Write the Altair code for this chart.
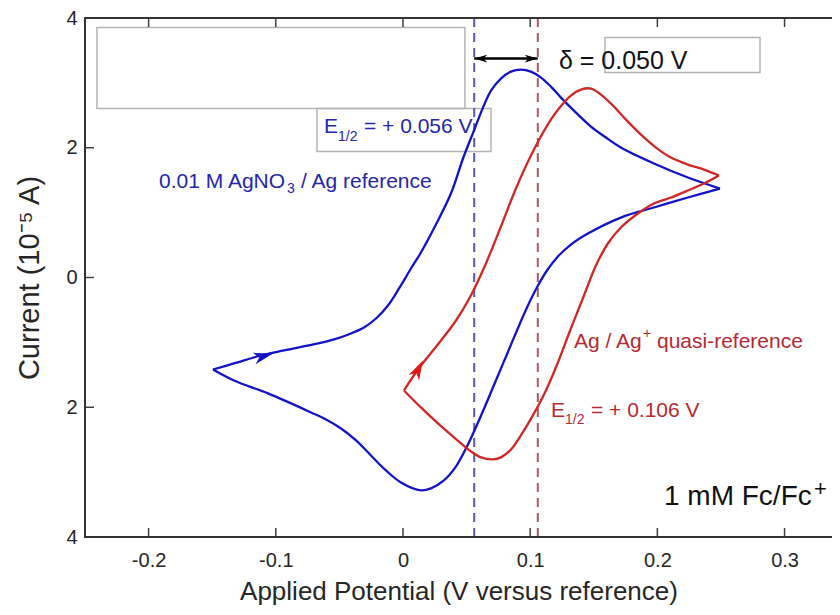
import altair as alt
import pandas as pd

# ---------------- data ----------------
# Blue CV : 0.01 M AgNO3 / Ag reference (forward = anodic sweep, reverse = cathodic sweep)
blue_fwd_x = [-0.1494, -0.1329, -0.1116, -0.0935, -0.0668, -0.0542, -0.0409, -0.0307, -0.0212,
              -0.0118, -0.0031, 0.0063, 0.0141, 0.0259, 0.0377, 0.0472, 0.0558, 0.0629, 0.0692,
              0.0770, 0.0849, 0.0927, 0.1006, 0.1085, 0.1163, 0.1242, 0.1360, 0.1478, 0.1596,
              0.1713, 0.1973, 0.2240, 0.2492]
blue_fwd_y = [-1.418, -1.325, -1.202, -1.125, -1.017, -0.955, -0.863, -0.770, -0.632,
              -0.431, -0.169, 0.139, 0.385, 0.817, 1.294, 1.834, 2.265, 2.619, 2.881,
              3.066, 3.174, 3.205, 3.174, 3.082, 2.943, 2.773, 2.542, 2.327, 2.157,
              2.003, 1.757, 1.541, 1.371]
blue_rev_x = [0.2492, 0.2240, 0.1973, 0.1713, 0.1454, 0.1320, 0.1218, 0.1132, 0.1053, 0.0975,
              0.0896, 0.0817, 0.0747, 0.0668, 0.0590, 0.0511, 0.0417, 0.0322, 0.0220, 0.0141,
              -0.0016, -0.0134, -0.0252, -0.0369, -0.0487, -0.0605, -0.0723, -0.1061, -0.1329,
              -0.1494]
blue_rev_y = [1.371, 1.233, 1.079, 0.924, 0.678, 0.508, 0.324, 0.108, -0.154, -0.462,
              -0.817, -1.186, -1.510, -1.880, -2.234, -2.573, -2.912, -3.128, -3.251, -3.282,
              -3.159, -2.974, -2.743, -2.511, -2.327, -2.188, -2.080, -1.787, -1.587,
              -1.418]

# Red CV : Ag / Ag+ quasi-reference
red_fwd_x = [0.0008, 0.0118, 0.0299, 0.0417, 0.0534, 0.0652, 0.0770, 0.0888, 0.1006, 0.1124,
             0.1226, 0.1320, 0.1399, 0.1478, 0.1556, 0.1651, 0.1753, 0.1871, 0.1989, 0.2107,
             0.2240, 0.2366, 0.2484]
red_fwd_y = [-1.741, -1.418, -0.971, -0.663, -0.277, 0.216, 0.786, 1.371, 1.880, 2.311,
             2.604, 2.804, 2.897, 2.912, 2.820, 2.650, 2.434, 2.203, 2.003, 1.849,
             1.741, 1.664, 1.572]
red_rev_x = [0.2484, 0.2366, 0.2240, 0.2107, 0.1973, 0.1847, 0.1713, 0.1611, 0.1517, 0.1423,
             0.1320, 0.1218, 0.1124, 0.1030, 0.0927, 0.0849, 0.0770, 0.0707, 0.0613, 0.0534,
             0.0401, 0.0275, 0.0141, 0.0008]
red_rev_y = [1.572, 1.448, 1.341, 1.233, 1.140, 0.986, 0.770, 0.524, 0.185, -0.277,
             -0.786, -1.310, -1.741, -2.095, -2.434, -2.650, -2.773, -2.804, -2.773, -2.681,
             -2.465, -2.250, -2.003, -1.741]

# half-wave potentials and their difference
e_half_values = [0.056, 0.106]
delta_y = 3.374

x_ticks = [-0.2, -0.1, 0, 0.1, 0.2, 0.3]
y_ticks = [-4, -2, 0, 2, 4]
# the reference figure is cropped at its right edge, a little before x = 0.35
x_domain = [-0.25, 0.3373]
y_domain = [-4, 4]

# ---------------- styles ----------------
W, H = 747, 519
FONT = "Liberation Sans"
BLUE = "#1212c6"
RED = "#d02828"
BLUE_TXT = "#2626a8"
RED_TXT = "#b42a34"
AXIS_COL = "#262626"
FRAME = "#333333"
TICK = 9

def branch(xs, ys, name):
    return pd.DataFrame({"x": xs, "y": ys, "branch": name, "idx": list(range(len(xs)))})

blue_df = pd.concat([branch(blue_fwd_x, blue_fwd_y, "bf"), branch(blue_rev_x, blue_rev_y, "br")])
red_df = pd.concat([branch(red_fwd_x, red_fwd_y, "rf"), branch(red_rev_x, red_rev_y, "rr")])

xscale = alt.Scale(domain=x_domain, nice=False, zero=False)
yscale = alt.Scale(domain=y_domain, nice=False, zero=False)

x_enc = alt.X("x:Q", scale=xscale, axis=alt.Axis(
    values=x_ticks, ticks=False, domain=False, grid=False,
    labelExpr="datum.value == 0 ? '0' : (datum.value < 0 ? '-' : '') + format(abs(datum.value), '.1f')",
    labelFontSize=20, labelColor=AXIS_COL, labelPadding=13, labelFont=FONT,
    title="Applied Potential (V versus reference)", titleFontSize=26, titleFontWeight="normal",
    titleColor=AXIS_COL, titleFont=FONT, titleBaseline="alphabetic", titleY=62))
y_enc = alt.Y("y:Q", scale=yscale, axis=alt.Axis(
    values=y_ticks, ticks=False, domain=False, grid=False,
    labelExpr="format(abs(datum.value), 'd')",
    labelFontSize=20, labelColor=AXIS_COL, labelPadding=8, labelFont=FONT,
    title="Current (10⁻⁵ A)", titleFontSize=29, titleFontWeight="normal",
    titleColor=AXIS_COL, titleFont=FONT, titleBaseline="alphabetic", titleX=-47))

# annotation boxes (transparent, grey outline)
boxes = pd.DataFrame({
    "x": [-0.2406, -0.0676, 0.1588],
    "x2": [0.0487, 0.0692, 0.2807],
    "y": [3.852, 2.604, 3.698],
    "y2": [2.604, 1.941, 3.159],
})
box_layer = alt.Chart(boxes).mark_rect(fillOpacity=0, stroke="#b4b4b4", strokeWidth=1.5).encode(
    x=x_enc, x2="x2:Q", y=y_enc, y2="y2:Q")

# dashed E1/2 lines
dash_df = pd.DataFrame({"x": e_half_values, "c": ["#5a5aa6", "#a85a62"]})
dash_layer = alt.Chart(dash_df).mark_rule(strokeDash=[9, 6], strokeWidth=2).encode(
    x=x_enc, color=alt.Color("c:N", scale=None))

blue_layer = alt.Chart(blue_df).mark_line(color=BLUE, strokeWidth=2.3, interpolate="catmull-rom").encode(
    x=x_enc, y=y_enc, detail="branch:N", order="idx:Q")
red_layer = alt.Chart(red_df).mark_line(color=RED, strokeWidth=2.3, interpolate="catmull-rom").encode(
    x=x_enc, y=y_enc, detail="branch:N", order="idx:Q")

# delta double arrow
shaft_df = pd.DataFrame({"x": [e_half_values[0]], "x2": [e_half_values[1]], "y": [delta_y]})
shaft_layer = alt.Chart(shaft_df).mark_rule(color="black", strokeWidth=2.5).encode(
    x=x_enc, x2="x2:Q", y=y_enc)

ARROW = "M0,0 L-2,-0.6 L-1.45,0 L-2,0.6 Z"
heads = pd.DataFrame({
    "x": [e_half_values[0], e_half_values[1], -0.1022, 0.0157],
    "y": [delta_y, delta_y, -1.171, -1.279],
    "angle": [180, 0, 345, 298],
    "size": [170, 170, 380, 380],
    "c": ["black", "black", BLUE, "#e01818"],
})
head_layer = alt.Chart(heads).mark_point(shape=ARROW, filled=True, opacity=1, strokeWidth=0).encode(
    x=x_enc, y=y_enc, angle=alt.Angle("angle:Q", scale=None),
    size=alt.Size("size:Q", scale=None), color=alt.Color("c:N", scale=None))

# text annotations (pieces for sub/superscripts)
ann = pd.DataFrame([
    (-0.1918, 1.387, "0.01 M AgNO", BLUE_TXT, 21),
    (-0.0912, 1.310, "3", BLUE_TXT, 14),
    (-0.0802, 1.387, "/ Ag reference", BLUE_TXT, 21),
    (-0.0621, 2.234, "E", BLUE_TXT, 21),
    (-0.0511, 2.111, "1/2", BLUE_TXT, 14),
    (-0.0307, 2.234, "= + 0.056 V", BLUE_TXT, 21),
    (0.1344, -1.079, "Ag / Ag", RED_TXT, 21),
    (0.1887, -0.940, "+", RED_TXT, 14),
    (0.1997, -1.079, "quasi-reference", RED_TXT, 21),
    (0.1164, -2.157, "E", RED_TXT, 21),
    (0.1274, -2.265, "1/2", RED_TXT, 14),
    (0.1478, -2.157, "= + 0.106 V", RED_TXT, 21),
    (0.1226, 3.220, "δ = 0.050 V", "#111111", 25),
    (0.2052, -3.513, "1 mM Fc/Fc", "#111111", 28),
    (0.3231, -3.374, "+", "#111111", 22),
], columns=["x", "y", "t", "c", "s"])
text_layer = alt.Chart(ann).mark_text(align="left", baseline="alphabetic", font=FONT).encode(
    x=x_enc, y=y_enc, text="t:N", color=alt.Color("c:N", scale=None), size=alt.Size("s:Q", scale=None))

# inward ticks (top, bottom, left) and the frame (top, bottom, left; the right side is cropped)
xt = pd.DataFrame({"x": x_ticks})
yt = pd.DataFrame({"y": y_ticks})
tick_style = dict(color="#404040", strokeWidth=1.5)
t_bottom = alt.Chart(xt).mark_rule(**tick_style).encode(x=x_enc, y=alt.value(H), y2=alt.value(H - TICK))
t_top = alt.Chart(xt).mark_rule(**tick_style).encode(x=x_enc, y=alt.value(0), y2=alt.value(TICK))
t_left = alt.Chart(yt).mark_rule(**tick_style).encode(y=y_enc, x=alt.value(0), x2=alt.value(TICK))

one = pd.DataFrame({"k": [0]})
frame_style = dict(color=FRAME, strokeWidth=2)
f_top = alt.Chart(one).mark_rule(**frame_style).encode(x=alt.value(-1), x2=alt.value(W), y=alt.value(0))
f_bottom = alt.Chart(one).mark_rule(**frame_style).encode(x=alt.value(-1), x2=alt.value(W), y=alt.value(H))
f_left = alt.Chart(one).mark_rule(**frame_style).encode(x=alt.value(0), y=alt.value(-1), y2=alt.value(H + 1))

chart = alt.layer(
    box_layer, dash_layer, blue_layer, red_layer, shaft_layer, head_layer, text_layer,
    t_bottom, t_top, t_left, f_top, f_bottom, f_left,
).properties(
    width=W, height=H,
    autosize=alt.AutoSizeParams(type="none"),
    padding={"left": 77, "top": 10, "right": 0, "bottom": 70},
    background="white",
).configure_view(
    stroke=None,
).configure(font=FONT)

chart.save("out.html", embed_options={"renderer": "svg", "actions": False})
